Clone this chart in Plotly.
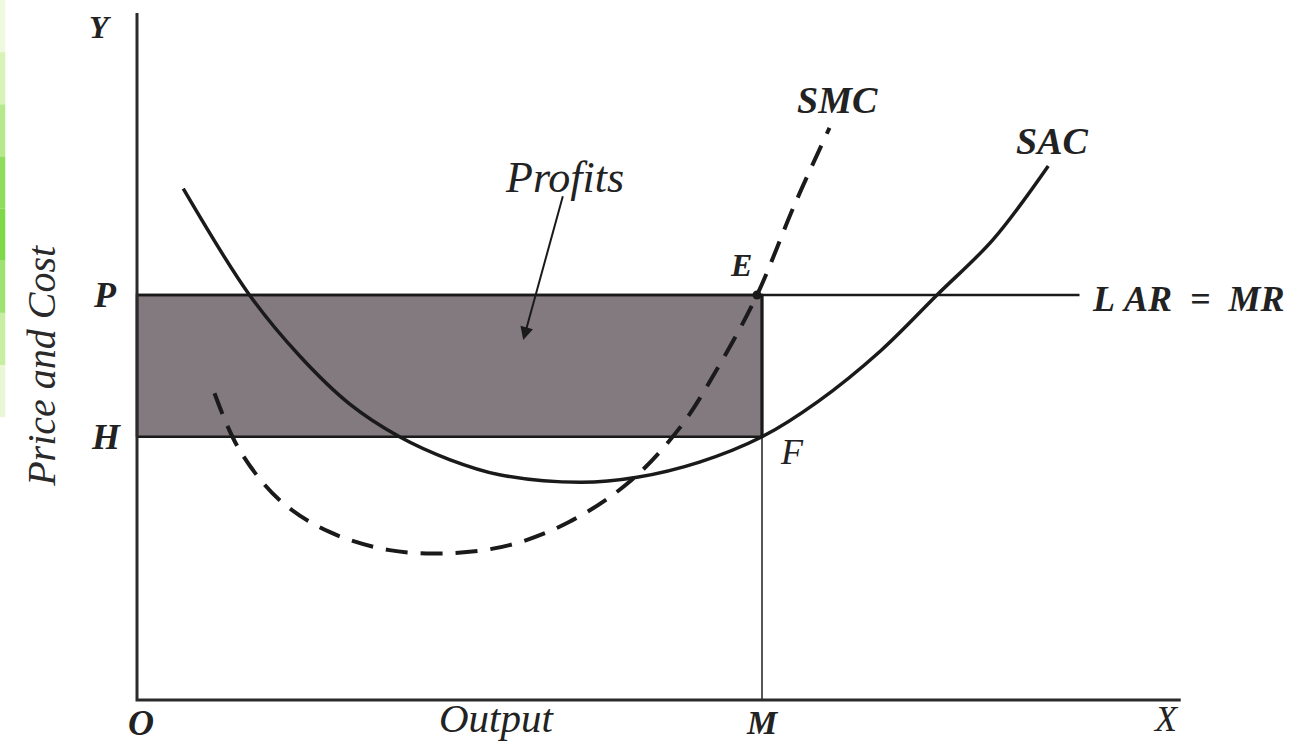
import plotly.graph_objects as go

# ---- data (economic units) ----
P_price = 8.0          # price level P (LAR = MR)
H_cost = 5.2           # average cost at M (point F)
M_output = 5.0         # equilibrium output M
x_axis_end = 8.35
y_axis_end = 13.57

sac_x = [0.37, 0.9, 1.3, 1.7, 2.1, 2.5, 2.9, 3.55, 4.0, 4.5, 5.0, 5.45, 5.95, 6.4, 6.85, 7.29]
sac_y = [10.1, 8.0, 6.8, 5.85, 5.2, 4.75, 4.45, 4.3, 4.4, 4.7, 5.2, 5.9, 6.9, 8.0, 9.1, 10.55]

smc_x = [0.62, 0.82, 1.14, 1.54, 2.02, 2.5, 2.98, 3.46, 3.94, 4.34, 4.66, 4.96, 5.26, 5.54]
smc_y = [6.06, 4.94, 3.95, 3.32, 2.96, 2.9, 3.06, 3.52, 4.31, 5.37, 6.62, 8.0, 9.78, 11.3]

lar_x_end = 7.54

ink = "#1a1a1a"
font_family = "Liberation Serif"

fig = go.Figure()

# profit rectangle
fig.add_trace(go.Scatter(
    x=[0, M_output, M_output, 0, 0], y=[H_cost, H_cost, P_price, P_price, H_cost],
    fill="toself", fillcolor="#837a7f", mode="lines",
    line=dict(color=ink, width=2.5), hoverinfo="skip", showlegend=False))

# M vertical line (below rectangle, thinner)
fig.add_trace(go.Scatter(x=[M_output, M_output], y=[0, H_cost], mode="lines",
                         line=dict(color="#444", width=1.8), showlegend=False))
# M vertical line inside rectangle (darker)
fig.add_trace(go.Scatter(x=[M_output, M_output], y=[H_cost, P_price], mode="lines",
                         line=dict(color=ink, width=3), showlegend=False))

# LAR = MR line
fig.add_trace(go.Scatter(x=[0, lar_x_end], y=[P_price, P_price], mode="lines",
                         line=dict(color=ink, width=2.5), showlegend=False))

# axes
fig.add_trace(go.Scatter(x=[0, 0, x_axis_end], y=[y_axis_end, 0, 0], mode="lines",
                         line=dict(color="#2b2b2b", width=3), showlegend=False))

# SAC
fig.add_trace(go.Scatter(x=sac_x, y=sac_y, mode="lines",
                         line=dict(color=ink, width=3.5, shape="spline", smoothing=1.0),
                         showlegend=False))
# SMC
fig.add_trace(go.Scatter(x=smc_x, y=smc_y, mode="lines",
                         line=dict(color=ink, width=4, shape="spline", smoothing=1.0,
                                   dash="22px,13px"),
                         showlegend=False))

# point E
fig.add_trace(go.Scatter(x=[M_output - 0.04], y=[P_price], mode="markers",
                         marker=dict(color=ink, size=9), showlegend=False))

def lab(x, y, text, size=34, color="#222", **kw):
    fig.add_annotation(x=x, y=y, xref="x", yref="y", text=text, showarrow=False,
                       font=dict(family=font_family, size=size, color=color), **kw)

lab(-0.3, 13.3, "<i><b>Y</b></i>", 32)
lab(-0.26, P_price, "<i><b>P</b></i>", 36)
lab(-0.25, H_cost, "<i><b>H</b></i>", 36)
lab(0.03, -0.45, "<i><b>O</b></i>", 36)
lab(2.88, -0.36, "<i>Output</i>", 41)
lab(5.0, -0.45, "<i><b>M</b></i>", 34)
lab(8.23, -0.38, "<i>X</i>", 36)
lab(4.83, 8.6, "<i><b>E</b></i>", 32)
lab(5.24, 4.9, "<i>F</i>", 36)
lab(5.6, 11.85, "<i><b>SMC</b></i>", 38)
lab(7.32, 11.05, "<i><b>SAC</b></i>", 38)
lab(7.62, 7.93, "<i><b>L&nbsp;AR&nbsp;&nbsp;=&nbsp;&nbsp;MR</b></i>", 36, xanchor="left")
lab(3.42, 10.33, "<i>Profits</i>", 44)
lab(-0.76, 6.6, "<i>Price and Cost</i>", 40, color="#2a2a2a", textangle=-90)

# profits arrow
fig.add_annotation(x=3.09, y=7.11, ax=3.41, ay=9.98, xref="x", yref="y",
                   axref="x", ayref="y", text="", showarrow=True,
                   arrowhead=2, arrowsize=1.3, arrowwidth=2, arrowcolor=ink)

# green strip on the left edge (gradient approximated by bands)
greens = ["#eef9dd", "#d8f2b8", "#b6e98c", "#8edd5c", "#7fd84a", "#9ee272", "#c7eea3", "#e9f7d6"]
band_h = 0.56 / len(greens)
for i, g in enumerate(greens):
    fig.add_shape(type="rect", xref="paper", yref="paper", x0=0, x1=0.004,
                  y0=1 - (i + 1) * band_h, y1=1 - i * band_h,
                  fillcolor=g, line=dict(width=0), layer="below")

fig.update_layout(
    width=1316, height=745,
    margin=dict(l=0, r=0, t=0, b=0),
    paper_bgcolor="white", plot_bgcolor="white",
    xaxis=dict(range=[-1.096, 9.432], visible=False, fixedrange=True),
    yaxis=dict(range=[-0.889, 13.827], visible=False, fixedrange=True),
    showlegend=False,
)

fig.write_html("out.html", config={"displayModeBar": False},
               post_script="document.body.style.margin='0';document.body.style.overflow='hidden';")
